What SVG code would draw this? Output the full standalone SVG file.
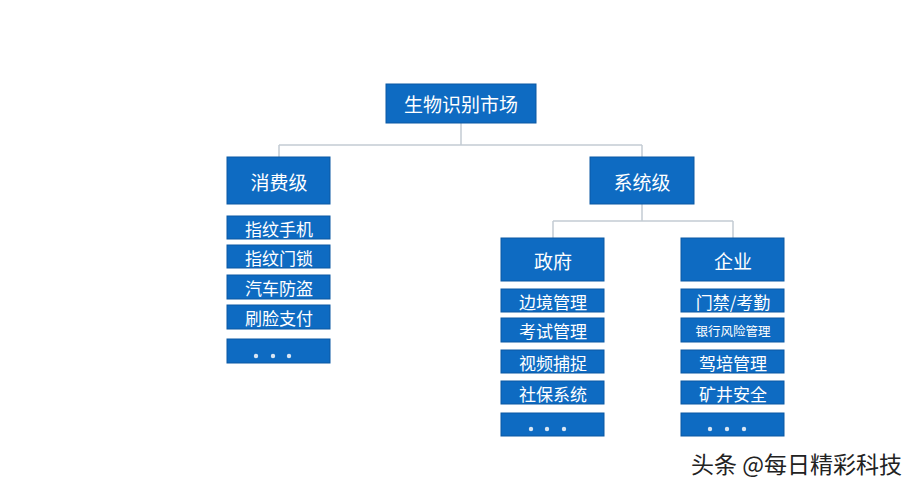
<svg xmlns="http://www.w3.org/2000/svg" width="921" height="490" viewBox="0 0 921 490">
<style>
.n{fill:#0e6bc2;stroke:#0a58a3;stroke-width:1}
.t{fill:#fff;font-family:"Noto Sans CJK SC","Noto Sans",sans-serif;text-anchor:middle;dominant-baseline:central}
.h{font-size:19px}
.i{font-size:17px}
.c{fill:none;stroke:#c3cbd3;stroke-width:1.5}
.d{fill:#d9e6f3}
</style>
<rect width="921" height="490" fill="#fff"/>
<g id="connectors">
<path class="c" d="M461 123V145M279 145H642M279 145V157M642 145V157M642 204V221M553 221H733M553 221V238M733 221V238"/>
</g>
<g id="root"><rect class="n" x="386" y="84" width="150" height="39"/><text class="t h" x="461" y="103">生物识别市场</text></g>
<g id="consumer"><rect class="n" x="227" y="157" width="103" height="47"/><text class="t h" x="279" y="181">消费级</text></g>
<g id="c1"><rect class="n" x="227" y="216" width="103" height="23"/><text class="t i" x="279" y="228">指纹手机</text></g>
<g id="c2"><rect class="n" x="227" y="245" width="103" height="23"/><text class="t i" x="279" y="257">指纹门锁</text></g>
<g id="c3"><rect class="n" x="227" y="275" width="103" height="24"/><text class="t i" x="279" y="287">汽车防盗</text></g>
<g id="c4"><rect class="n" x="227" y="305" width="103" height="24"/><text class="t i" x="279" y="317">刷脸支付</text></g>
<g id="c5"><rect class="n" x="227" y="339" width="103" height="24"/><circle class="d" cx="256" cy="356" r="2.2"/><circle class="d" cx="273" cy="356" r="2.2"/><circle class="d" cx="289" cy="356" r="2.2"/></g>
<g id="system"><rect class="n" x="590" y="157" width="104" height="47"/><text class="t h" x="642" y="181">系统级</text></g>
<g id="gov"><rect class="n" x="501" y="238" width="103" height="43"/><text class="t h" x="553" y="260">政府</text></g>
<g id="ent"><rect class="n" x="681" y="238" width="103" height="43"/><text class="t h" x="733" y="260">企业</text></g>
<g id="g1"><rect class="n" x="501" y="289" width="103" height="23"/><text class="t i" x="553" y="301">边境管理</text></g>
<g id="g2"><rect class="n" x="501" y="318" width="103" height="24"/><text class="t i" x="553" y="330">考试管理</text></g>
<g id="g3"><rect class="n" x="501" y="350" width="103" height="23"/><text class="t i" x="553" y="362">视频捕捉</text></g>
<g id="g4"><rect class="n" x="501" y="381" width="103" height="23"/><text class="t i" x="553" y="393">社保系统</text></g>
<g id="g5"><rect class="n" x="501" y="413" width="103" height="23"/><circle class="d" cx="531" cy="429" r="2.2"/><circle class="d" cx="547" cy="429" r="2.2"/><circle class="d" cx="564" cy="429" r="2.2"/></g>
<g id="e1"><rect class="n" x="681" y="289" width="103" height="23"/><text class="t i" x="733" y="301">门禁/考勤</text></g>
<g id="e2"><rect class="n" x="681" y="318" width="103" height="24"/><text class="t" style="font-size:12.5px" x="733" y="330">银行风险管理</text></g>
<g id="e3"><rect class="n" x="681" y="350" width="103" height="23"/><text class="t i" x="733" y="362">驾培管理</text></g>
<g id="e4"><rect class="n" x="681" y="381" width="103" height="23"/><text class="t i" x="733" y="393">矿井安全</text></g>
<g id="e5"><rect class="n" x="681" y="413" width="103" height="23"/><circle class="d" cx="710" cy="429" r="2.2"/><circle class="d" cx="727" cy="429" r="2.2"/><circle class="d" cx="744" cy="429" r="2.2"/></g>
<text x="691" y="473" style="font-family:'Noto Sans CJK SC',sans-serif;font-size:23px;fill:#222">头条 @每日精彩科技</text>
</svg>
